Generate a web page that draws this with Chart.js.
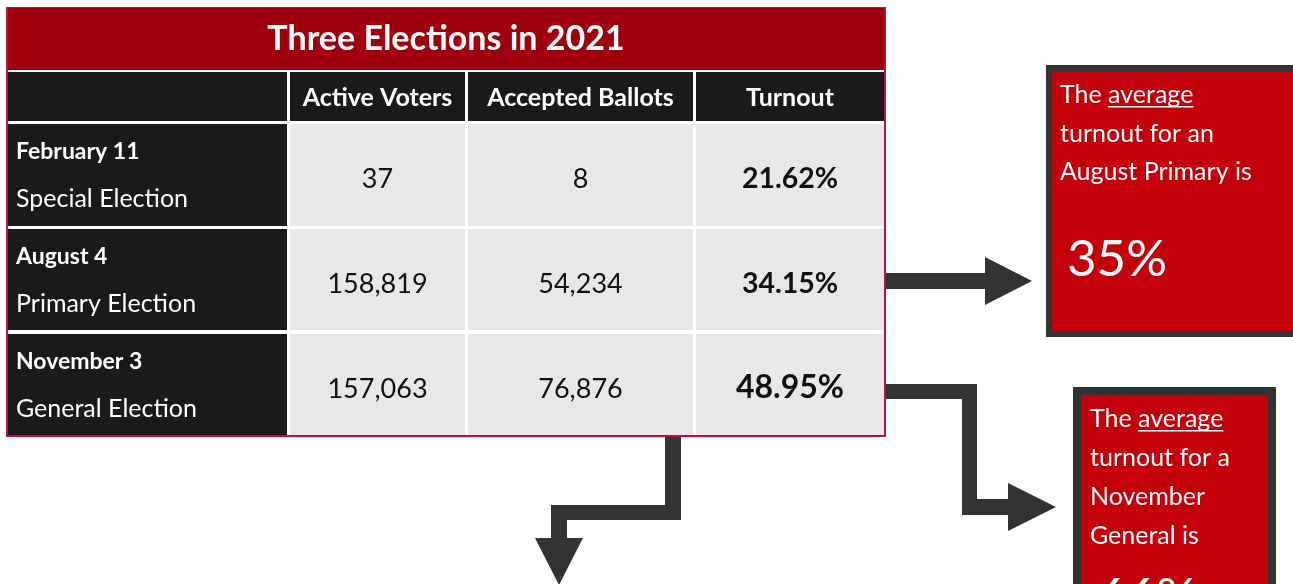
<!DOCTYPE html>
<html>
<head>
<meta charset="utf-8">
<title>Three Elections in 2021</title>
<script src="https://cdn.jsdelivr.net/npm/chart.js@4.4.1/dist/chart.umd.min.js"></script>
<style>
  html, body { margin: 0; padding: 0; background: #fff; }
  #wrap { width: 1293px; height: 584px; }
</style>
</head>
<body>
<div id="wrap"><canvas id="myChart"></canvas></div>
<script>
// Dữ liệu bảng
const title = 'Three Elections in 2021';
const columns = ['Active Voters', 'Accepted Ballots', 'Turnout'];
const electionDates = ['February 11', 'August 4', 'November 3'];
const electionTypes = ['Special Election', 'Primary Election', 'General Election'];
const activeVoters = [37, 158819, 157063];
const acceptedBallots = [8, 54234, 76876];
const turnout = [21.62, 34.15, 48.95];

// Hộp ghi chú bên phải
const noteLines = [
  ['The average', 'turnout for an', 'August Primary is'],
  ['The average', 'turnout for a', 'November', 'General is']
];
const averageTurnout = [35, 66];

// Bố cục (đơn vị = pixel trên trục ẩn)
const layout = {
  border: [7, 8, 885, 436],
  titleBar: [8, 8, 884, 70],
  cols: [[8, 287], [290, 465], [468, 693], [696, 884]],
  header: [72, 121],
  rows: [[124, 226], [229, 330], [334, 435]],
  boxes: [
    { outer: [1046, 65, 1300, 337], pad: 6, textX: 1060, firstLine: 103, step: 38.5, bigY: 276 },
    { outer: [1073, 387, 1276, 640], pad: 8, textX: 1090, firstLine: 427, step: 39, bigY: 614 }
  ],
  arrows: [
    [[886, 273], [985, 273], [985, 257], [1032, 281], [985, 305], [985, 289], [886, 289]],
    [[886, 384], [977, 384], [977, 499], [1008, 499], [1008, 483], [1056, 507], [1008, 531],
     [1008, 515], [962, 515], [962, 399], [886, 399]],
    [[665, 437], [681, 437], [681, 520], [567, 520], [567, 538], [583, 538], [559, 585],
     [535, 538], [551, 538], [551, 505], [665, 505]]
  ]
};

const FONT = "Lato, 'Open Sans', sans-serif";

const fmt = n => n.toLocaleString('en-US');
const cellText = activeVoters.map((v, i) => [fmt(v), fmt(acceptedBallots[i]), turnout[i].toFixed(2) + '%']);

const tablePlugin = {
  id: 'electionTable',
  afterDraw(chart) {
    const { ctx, scales: { x, y } } = chart;
    const px = v => x.getPixelForValue(v);
    const py = v => y.getPixelForValue(v);
    const box = (b, color) => {
      ctx.fillStyle = color;
      ctx.fillRect(px(b[0]), py(b[1]), px(b[2]) - px(b[0]), py(b[3]) - py(b[1]));
    };
    const text = (str, tx, ty, font, color, align) => {
      ctx.font = font;
      ctx.fillStyle = color;
      ctx.textAlign = align || 'left';
      ctx.textBaseline = 'alphabetic';
      ctx.fillText(str, px(tx), py(ty));
    };

    ctx.save();

    // khung viền
    ctx.strokeStyle = '#b0173b';
    ctx.lineWidth = 2;
    const bd = layout.border;
    ctx.strokeRect(px(bd[0]), py(bd[1]), px(bd[2]) - px(bd[0]), py(bd[3]) - py(bd[1]));

    // tiêu đề
    box(layout.titleBar, '#a0000d');
    const tb = layout.titleBar;
    text(title, (tb[0] + tb[2]) / 2, 50, 'bold 34px ' + FONT, '#fff', 'center');

    // hàng tiêu đề cột
    const [h0, h1] = layout.header;
    layout.cols.forEach((c, i) => {
      box([c[0], h0, c[1], h1], '#1a1a1a');
      if (i > 0) text(columns[i - 1], (c[0] + c[1]) / 2, h0 + 34, 'bold 25px ' + FONT, '#fff', 'center');
    });

    // các hàng dữ liệu
    layout.rows.forEach((r, ri) => {
      const [r0, r1] = r;
      layout.cols.forEach((c, ci) => {
        box([c[0], r0, c[1], r1], ci === 0 ? '#1a1a1a' : '#e8e8e8');
      });
      const c0 = layout.cols[0][0];
      text(electionDates[ri], c0 + 8, r0 + 35, 'bold 23px ' + FONT, '#fff');
      text(electionTypes[ri], c0 + 8, r0 + 83, '25px ' + FONT, '#fff');
      cellText[ri].forEach((s, ci) => {
        const c = layout.cols[ci + 1];
        let font = '27px ' + FONT;
        if (ci === 2) font = 'bold ' + (ri === 2 ? 32 : 28.5) + 'px ' + FONT;
        text(s, (c[0] + c[1]) / 2, r0 + 64, font, '#111', 'center');
      });
    });

    // mũi tên
    ctx.fillStyle = '#333333';
    layout.arrows.forEach(pts => {
      ctx.beginPath();
      pts.forEach((p, i) => i ? ctx.lineTo(px(p[0]), py(p[1])) : ctx.moveTo(px(p[0]), py(p[1])));
      ctx.closePath();
      ctx.fill();
    });

    // hộp ghi chú
    layout.boxes.forEach((b, bi) => {
      const o = b.outer;
      box(o, '#333333');
      box([o[0] + b.pad, o[1] + b.pad, o[2] - b.pad, o[3] - b.pad], '#c4000b');
      noteLines[bi].forEach((line, li) => {
        const ly = b.firstLine + li * b.step;
        text(line, b.textX, ly, '25px ' + FONT, '#fff');
        if (li === 0) {
          // gạch chân chữ "average"
          ctx.font = '25px ' + FONT;
          const x0 = px(b.textX) + ctx.measureText('The ').width;
          const w = ctx.measureText('average').width;
          ctx.fillStyle = '#fff';
          ctx.fillRect(x0, py(ly) + 3, w, 1.5);
        }
      });
      text(averageTurnout[bi] + '%', b.textX + 7, b.bigY, '51px ' + FONT, '#fff');
    });

    ctx.restore();
  }
};

const ctx = document.getElementById('myChart').getContext('2d');
const myChart = new Chart(ctx, {
  type: 'scatter',
  data: { datasets: [] },
  options: {
    responsive: true,
    maintainAspectRatio: false,
    animation: false,
    layout: { padding: 0 },
    plugins: { legend: { display: false }, tooltip: { enabled: false } },
    scales: {
      x: { type: 'linear', min: 0, max: 1293, display: false },
      y: { type: 'linear', min: 0, max: 584, reverse: true, display: false }
    }
  },
  plugins: [tablePlugin]
});
</script>
</body>
</html>
